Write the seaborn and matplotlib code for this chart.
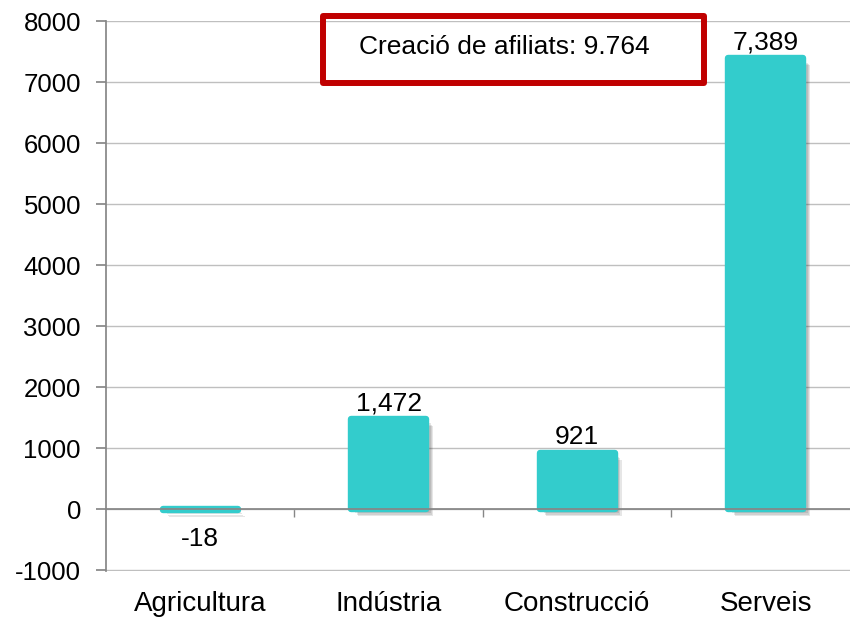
import matplotlib
matplotlib.use('Agg')
import matplotlib.pyplot as plt
import matplotlib.patheffects as pe
from matplotlib.patches import Rectangle
import pandas as pd
import seaborn as sns

# Sector data
sectors = ['Agricultura', 'Indústria', 'Construcció', 'Serveis']
afiliats = [-18, 1472, 921, 7389]
total_text = 'Creació de afiliats: 9.764'

df = pd.DataFrame({'sector': sectors, 'afiliats': afiliats})

sns.set_theme(style='white')
plt.rcParams['font.family'] = ['Liberation Sans', 'DejaVu Sans']
plt.rcParams['axes.unicode_minus'] = False

fig = plt.figure(figsize=(8.5, 6.21), dpi=100)
ax = fig.add_axes([0.1247, 0.080, 0.887, 0.886])

sns.barplot(x='sector', y='afiliats', data=df, color='#33CCCC', saturation=1,
            width=0.40, ax=ax, zorder=3)

# soft drop shadow + rounded corners like the original
shadow = [pe.SimplePatchShadow(offset=(o, -o), shadow_rgbFace='#333333', alpha=0.12)
          for o in (2, 3, 4, 5)]
for bar in ax.patches:
    bar.set_edgecolor('#33CCCC')
    bar.set_linewidth(4.6)
    bar.set_joinstyle('round')
    bar.set_path_effects(shadow + [pe.Normal()])

# value labels
cont = ax.containers[0]
pos_labels = [f'{v:,}' if v >= 0 else '' for v in afiliats]
neg_labels = [f'{v:,}' if v < 0 else '' for v in afiliats]
ax.bar_label(cont, labels=pos_labels, padding=3, fontsize=19, color='black')
ax.bar_label(cont, labels=neg_labels, padding=12, fontsize=19, color='black')

ax.set_ylim(-1020, 8000)
ax.set_yticks(range(-1000, 8001, 1000))
ax.set_xlim(-0.5, 3.5)
ax.yaxis.grid(True, color='#BFBFBF', linewidth=1)
ax.set_axisbelow(True)

for s in ['top', 'right']:
    ax.spines[s].set_visible(False)
ax.spines['left'].set_color('#868686')
ax.spines['bottom'].set_color('#868686')
ax.spines['bottom'].set_position(('data', 0))
ax.spines['bottom'].set_zorder(4)

ax.tick_params(axis='y', direction='out', length=7, color='#868686', labelsize=18.5,
               labelcolor='black', left=True, pad=11)
ax.set_xticks([0.5, 1.5, 2.5], minor=True)
ax.tick_params(axis='x', which='minor', direction='out', length=6, color='#868686', bottom=True)
ax.tick_params(axis='x', which='major', length=0, labelsize=20, labelcolor='black', pad=59)

ax.set_xlabel('')
ax.set_ylabel('')

# total box
ax.add_patch(Rectangle((0.653, 6984), 2.021, 1098, fill=False, edgecolor='#C00000',
                       linewidth=4.3, joinstyle='round', clip_on=False, zorder=5))
ax.text(1.613, 7574, total_text, ha='center', va='center', fontsize=19, color='black', zorder=6)

plt.savefig('out.png', dpi=100)
